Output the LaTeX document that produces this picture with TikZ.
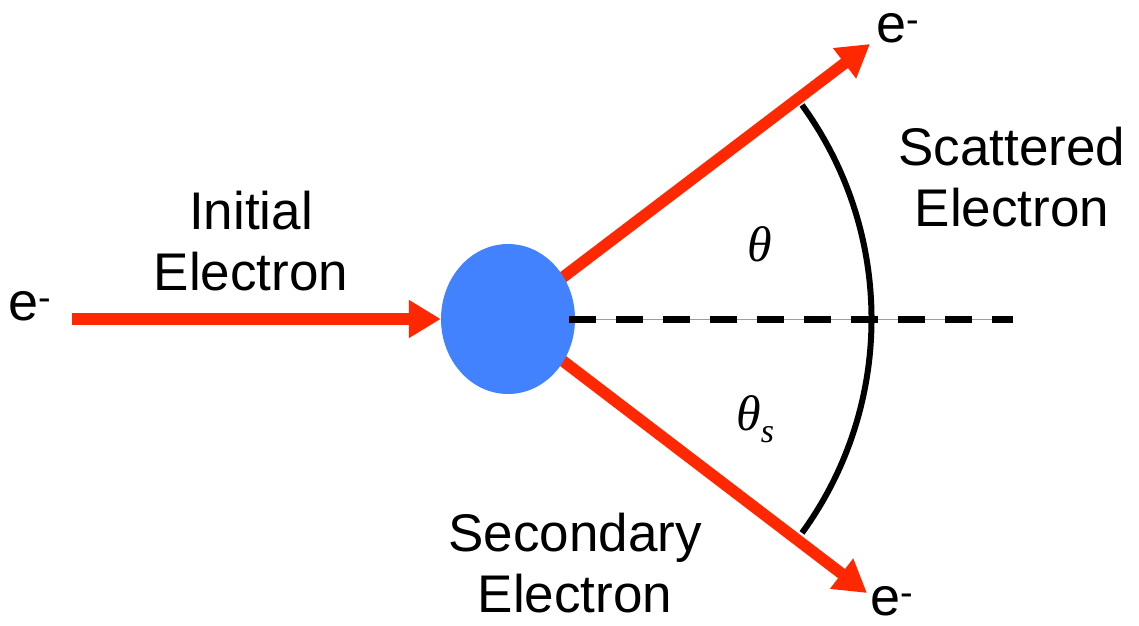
\documentclass[tikz,border=0pt]{standalone}
\usepackage{fontspec}
\setmainfont{Liberation Sans}
\newfontfamily\grkfont{Liberation Serif}
\usetikzlibrary{arrows.meta,shapes.geometric}
\definecolor{ered}{RGB}{255,40,0}
\definecolor{eblue}{RGB}{66,130,255}
\definecolor{lblue}{RGB}{120,165,220}
\begin{document}
\begin{tikzpicture}[x=1pt,y=-1pt,
  beam/.style={draw=ered,line width=11.5pt,-{Triangle[length=32pt,width=36pt]}},
  lbl/.style={font=\fontsize{53}{61}\selectfont,align=center,inner sep=0pt},
  elab/.style={font=\fontsize{54}{54}\selectfont,inner sep=0pt,anchor=base west},
  ang/.style={font=\fontsize{50}{50}\selectfont\grkfont\itshape,inner sep=0pt},
  blobstyle/.style={ellipse,fill=eblue,minimum width=134pt,minimum height=150pt,inner sep=0pt},
  dashline/.style={line width=7pt,dash pattern=on 27pt off 20pt},
  guide/.style={draw=lblue,line width=1pt},
  arcline/.style={line width=6pt}
]
\useasboundingbox (0,0) rectangle (1139,625);
\coordinate (c) at (508,319);
\coordinate (inStart) at (72,319);
\coordinate (upTip) at (870,44);
\coordinate (downTip) at (867,593);
\coordinate (dashStart) at (569,319);
\coordinate (dashEnd) at (1013,319);
\coordinate (arcTop) at (802,105);
% outgoing beams behind the blob
\draw[beam] (c) -- (upTip);
\draw[beam] (c) -- (downTip);
\node[blobstyle] (blob) at (c) {};
\draw[beam] (inStart) -- (blob.west);
% axis
\draw[guide] (dashStart) -- (dashEnd);
\draw[dashline] (dashStart) -- (dashEnd);
% angle arc
\draw[arcline] (arcTop) arc[start angle=36, end angle=-36, radius=364pt];
% labels
\node[elab] (eIn) at (8,320) {e\textsuperscript{-}};
\node[elab] (eUp) at (876,42) {e\textsuperscript{-}};
\node[elab] (eDown) at (870,615) {e\textsuperscript{-}};
\node[ang,anchor=base] (th) at (760,261) {θ};
\node[ang,anchor=base west] (ths) at (736,430) {θ\raisebox{-0.25em}{\fontsize{34}{34}\selectfont s}};
\node[lbl] (init) at (251,241) {Initial\\Electron};
\node[lbl] (scat) at (1012,177) {Scattered\\Electron};
\node[lbl] (sec) at (575,563) {Secondary\\Electron};
\end{tikzpicture}
\end{document}
